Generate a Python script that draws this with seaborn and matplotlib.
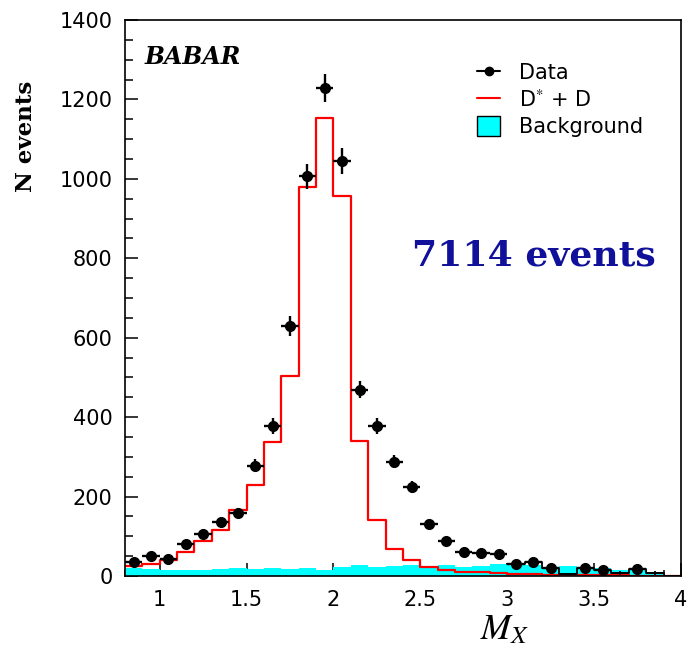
import numpy as np
import pandas as pd
import seaborn as sns
import matplotlib
matplotlib.use('Agg')
import matplotlib.pyplot as plt
from matplotlib.patches import Patch
from matplotlib.lines import Line2D
from matplotlib.ticker import MultipleLocator

# bin edges of the M_X histogram (width 0.1, 0.8 .. 4.0)
bin_edges = [round(0.8 + 0.1 * i, 2) for i in range(33)]
bin_centers = [round(0.85 + 0.1 * i, 2) for i in range(32)]

# data points (events per bin)
data_counts = [35, 50, 43, 81, 107, 135, 159, 278, 378, 629, 1006, 1229, 1045, 469,
               378, 288, 224, 131, 89, 60, 57, 56, 31, 36, 19, 4, 20, 16, 8, 17, 7, 0]
# D* + D signal shape
signal_counts = [26, 31, 40, 60, 88, 115, 166, 230, 337, 503, 980, 1152, 957, 340,
                 142, 68, 40, 22, 15, 11, 9, 8, 6, 4, 3, 3, 2, 2, 2, 1, 1, 0]
# background
bkg_counts = [19, 17, 15, 14, 15, 18, 20, 18, 20, 18, 20, 15, 23, 27, 22, 25,
              27, 22, 27, 22, 26, 29, 32, 27, 22, 24, 22, 20, 14, 15, 9, 3]

x_ticks = [1, 1.5, 2, 2.5, 3, 3.5, 4]
x_ticklabels = ['1', '1.5', '2', '2.5', '3', '3.5', '4']
y_ticks = [0, 200, 400, 600, 800, 1000, 1200, 1400]

df = pd.DataFrame({'mx': bin_centers, 'data': data_counts,
                   'signal': signal_counts, 'bkg': bkg_counts})

sns.set_style('white')
plt.rcParams['font.family'] = ['DejaVu Sans']
plt.rcParams['text.color'] = 'black'
plt.rcParams['xtick.color'] = 'black'
plt.rcParams['ytick.color'] = 'black'
plt.rcParams['mathtext.fontset'] = 'stix'

fig = plt.figure(figsize=(6.88, 6.58), dpi=100)
ax = fig.add_axes([0.1817, 0.1246, 0.8080, 0.8450])

# background (filled cyan)
sns.histplot(data=df, x='mx', weights='bkg', bins=bin_edges, element='step',
             fill=True, color='#00ffff', alpha=1, linewidth=0, ax=ax)
# D* + D (red step line)
sns.histplot(data=df, x='mx', weights='signal', bins=bin_edges, element='step',
             fill=False, color='red', linewidth=1.6, ax=ax)
# data drawn as black steps in the tail
tail = df[df['mx'] > 3.0]
sns.histplot(data=tail, x='mx', weights='data', bins=bin_edges[22:], element='step',
             fill=False, color='black', linewidth=1.3, ax=ax)

# data points with errors
big = df[(df['data'] > 10)]
small = df[(df['data'] > 0) & (df['data'] <= 10)]
ax.errorbar(big['mx'], big['data'], xerr=0.05, yerr=np.sqrt(big['data']),
            fmt='o', color='black', markersize=7, elinewidth=1.7, capsize=0, zorder=5)
ax.errorbar(small['mx'], small['data'], xerr=0.05, yerr=np.sqrt(small['data']) + 2,
            fmt='none', ecolor='black', elinewidth=1.3, capsize=0, zorder=5)

ax.set_xlim(0.8, 4.0)
ax.set_ylim(0, 1400)
ax.set_xticks(x_ticks)
ax.set_xticklabels(x_ticklabels)
ax.set_yticks(y_ticks)
ax.xaxis.set_minor_locator(MultipleLocator(0.1))
ax.yaxis.set_minor_locator(MultipleLocator(50))
ax.tick_params(axis='both', which='both', direction='in', bottom=True, left=True,
               top=False, right=False, labelsize=15, width=1.1,
               color='black', labelcolor='black')
ax.tick_params(axis='x', which='major', length=9.5, pad=10)
ax.tick_params(axis='x', which='minor', length=4.5)
ax.tick_params(axis='y', which='major', length=9.5, pad=9)
ax.tick_params(axis='y', which='minor', length=5.5)
for s in ax.spines.values():
    s.set_color('black')
    s.set_linewidth(1.2)

ax.set_ylabel('N events', fontsize=16.5, fontweight='bold', family='DejaVu Serif',
              color='black')
ax.yaxis.set_label_coords(-0.158, 0.79)
ax.set_xlabel(r'$M_{X}$', fontsize=26, color='black')
ax.xaxis.set_label_coords(0.683, -0.065)

ax.text(0.036, 0.933, 'BABAR', transform=ax.transAxes, fontsize=17,
        fontweight='bold', fontstyle='italic', family='DejaVu Serif', va='center')
ax.text(0.516, 0.577, '7114 events', transform=ax.transAxes, fontsize=26,
        fontweight='bold', family='DejaVu Serif', color='#10109a', va='center')

handles = [Line2D([0], [0], color='black', marker='o', markersize=6, linewidth=1.5),
           Line2D([0], [0], color='red', linewidth=1.5),
           Patch(facecolor='#00ffff', edgecolor='black', linewidth=1.0)]
labels = ['Data', r'D$^{*}$ + D', 'Background']
leg = ax.legend(handles, labels, loc='upper left', bbox_to_anchor=(0.6, 0.958),
                frameon=False, fontsize=15, handlelength=1.1, handletextpad=0.9,
                labelspacing=0.28, handleheight=1.1)
for t in leg.get_texts():
    t.set_color('black')

plt.savefig('out.png', dpi=100)
